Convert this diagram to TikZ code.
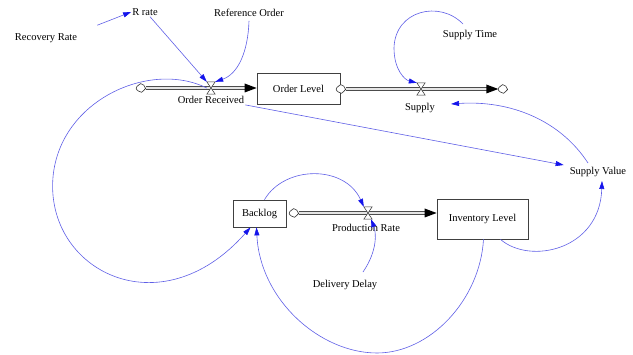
\documentclass[tikz,border=0pt]{standalone}
\usepackage{fontspec}
\setmainfont{Liberation Serif}
\usetikzlibrary{arrows.meta,decorations.markings,calc}
\definecolor{linkblue}{RGB}{95,95,230}
\definecolor{tipblue}{RGB}{20,20,235}
\begin{document}
\begin{tikzpicture}[x=1pt,y=-1pt,
  var/.style={font=\fontsize{10.5}{12}\selectfont, inner sep=1pt},
  stock/.style={draw=black!75, line width=0.8pt, fill=white, font=\fontsize{10.5}{12}\selectfont, inner sep=0pt},
  src/.style={circle, minimum size=9pt, inner sep=0pt},
  cloudline/.style={draw=black!80, fill=white, line width=0.6pt},
  valve/.style={minimum width=8pt, minimum height=12pt, inner sep=0pt},
  pipe/.style={draw=black!70, double=black!10, double distance=2pt, line width=0.8pt, shorten >=10pt,
    postaction={draw=none, decorate, decoration={markings, mark=at position 1 with {\fill[black] (0pt,0pt)--(-12pt,4.5pt)--(-12pt,-4.5pt)--cycle;}}}},
  link/.style={draw=linkblue, line width=0.6pt, -{Triangle[length=8pt,width=5pt,color=tipblue]}}
]
\useasboundingbox (0,0) rectangle (633,355);

% stocks
\node[stock, minimum width=83pt, minimum height=31pt] (ol) at (298.5,88.5) {Order Level};
\node[stock, minimum width=53pt, minimum height=27pt] (bl) at (259.5,213.5) {Backlog};
\node[stock, minimum width=91pt, minimum height=40pt] (il) at (482.5,219) {Inventory Level};

% clouds (sources / sinks)
\node[src] (c1) at (141,88) {};
\node[src] (c2) at (341,89) {};
\node[src] (c3) at (503,89) {};
\node[src] (c4) at (294,213) {};

% valves
\node[valve] (v1) at (211,88) {};
\node[valve] (v2) at (421,89) {};
\node[valve] (v3) at (368,213) {};

% pipes
\draw[pipe] (c1) -- (c1 -| ol.west);
\draw[pipe] (c2) -- (c3);
\draw[pipe] (c4) -- (c4 -| il.west);

\foreach \c in {c1,c2,c3,c4}
  \path[cloudline] plot[smooth cycle, tension=0.9] coordinates {
    ([shift={(4.6,0.5)}]\c.center) ([shift={(2.6,2.6)}]\c.center) ([shift={(0.5,4.3)}]\c.center)
    ([shift={(-2.6,3.0)}]\c.center) ([shift={(-4.8,0.3)}]\c.center) ([shift={(-2.8,-2.6)}]\c.center)
    ([shift={(-0.3,-4.4)}]\c.center) ([shift={(2.8,-2.8)}]\c.center)};

\foreach \v in {v1,v2,v3}
  \filldraw[fill=white, draw=black!80, line width=0.5pt]
    (\v.north west) -- (\v.north east) -- (\v.south west) -- (\v.south east) -- cycle;

% variable labels
\node[var] (rec) at (46,38) {Recovery Rate};
\node[var] (rr) at (145,12) {R rate};
\node[var] (ro) at (249,13) {Reference Order};
\node[var] (or) at (211,100) {Order Received};
\node[var] (st) at (470,35) {Supply Time};
\node[var] (sp) at (420,108) {Supply};
\node[var] (sv) at (598,172) {Supply Value};
\node[var] (pr) at (366,228) {Production Rate};
\node[var] (dd) at (345,285) {Delivery Delay};

% links
\draw[link] ([xshift=19pt,yshift=7pt]rec.north east) -- (rr.west);
\draw[link] ([xshift=5pt]rr.south) -- (v1.north west);
\draw[link] ([yshift=-3pt]ro.south) .. controls (248,52) and (238,74) .. (v1.north east);
\draw[link] (v1.west) .. controls (150,60) and (60,100) .. (53,177)
   .. controls (45,270) and (160,330) .. ([xshift=-9pt]bl.south);
\draw[link] (or.south east) -- ([xshift=-5pt,yshift=1pt]sv.north west);
\draw[link] ([xshift=-10pt,yshift=3pt]sv.north) .. controls (560,120) and (510,100) .. ([xshift=15pt,yshift=4pt]sp.east);
\draw[link] ([xshift=-7pt,yshift=5pt]st.north) .. controls (440,0) and (395,10) .. (394,48)
   .. controls (394,70) and (405,80) .. (v2.north west);
\draw[link] ([xshift=5pt]bl.north) .. controls (285,165) and (345,165) .. (v3.north west);
\draw[link] ([xshift=18pt,yshift=7pt]dd.north) .. controls (378,250) and (376,232) .. ([xshift=3pt]v3.south);
\draw[link] ([xshift=1pt]il.south) .. controls (480,300) and (430,353) .. (377,353)
   .. controls (320,353) and (260,300) .. ([xshift=-3pt]bl.south);
\draw[link] ([xshift=18pt]il.south) .. controls (530,265) and (600,250) .. ([xshift=4pt,yshift=-3pt]sv.south);
\end{tikzpicture}
\end{document}
